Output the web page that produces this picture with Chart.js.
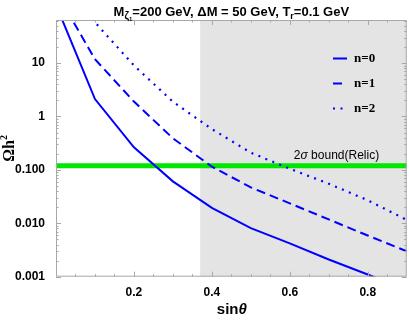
<!DOCTYPE html>
<html>
<head>
<meta charset="utf-8">
<script src="https://cdn.jsdelivr.net/npm/chart.js@4.4.0/dist/chart.umd.min.js"></script>
<style>
  html, body { margin: 0; padding: 0; background: #fff; }
</style>
</head>
<body>
<canvas id="c" width="409" height="327"></canvas>
<script>
// values
const sinTheta = [0.01, 0.1, 0.2, 0.3, 0.4, 0.5, 0.6, 0.7, 0.8, 0.9];
const omegaN0 = [82, 2.12, 0.265, 0.061, 0.0195, 0.0081, 0.0042, 0.0021, 0.0011, 0.00056];
const omegaN1 = [162, 11.8, 1.9, 0.39, 0.115, 0.047, 0.0236, 0.0118, 0.0059, 0.0030];
const omegaN2 = [265, 58, 9.0, 1.89, 0.58, 0.21, 0.105, 0.055, 0.027, 0.0116];
const seriesNames = ['n=0', 'n=1', 'n=2'];
const relicBound = 0.12;
const shadedFrom = 0.37;
const xRange = [0, 0.9];
const yRange = [0.001, 64];
const xTicks = [0.2, 0.4, 0.6, 0.8];
const yTicks = [0.001, 0.01, 0.1, 1, 10];
const yTickLabels = ['0.001', '0.010', '0.100', '1', '10'];

const BLUE = '#0000ff';
const GREEN = '#00e600';
const SANS = '"Liberation Sans", Arial, sans-serif';
const SERIF = '"Liberation Serif", "Times New Roman", serif';

function points(ys) {
  return sinTheta.map((x, i) => ({ x: x, y: ys[i] }));
}

// draws text made of pieces with different fonts / offsets
function richText(ctx, parts, cx, y) {
  let w = 0;
  parts.forEach(p => { ctx.font = p.f; w += ctx.measureText(p.t).width; });
  let x = cx - w / 2;
  ctx.textAlign = 'left';
  ctx.textBaseline = 'alphabetic';
  parts.forEach(p => {
    ctx.font = p.f;
    ctx.fillText(p.t, x, y + (p.dy || 0));
    x += ctx.measureText(p.t).width;
  });
}

const decorations = {
  id: 'decorations',
  beforeDatasetsDraw(chart) {
    const { ctx, chartArea: a, scales } = chart;
    const x0 = scales.x.getPixelForValue(shadedFrom);
    ctx.save();
    ctx.fillStyle = '#e4e4e4';
    ctx.fillRect(x0, a.top, a.right - x0, a.bottom - a.top);
    ctx.restore();
  },
  afterDatasetsDraw(chart) {
    const { ctx, chartArea: a, scales } = chart;
    ctx.save();
    ctx.strokeStyle = '#a8a8a8';
    ctx.lineWidth = 1;
    ctx.strokeRect(a.left + 0.5, a.top + 0.5, a.right - a.left - 1, a.bottom - a.top - 1);

    // inward tick marks
    ctx.beginPath();
    for (let d = 0.001; d < 100; d *= 10) {
      for (let k = 1; k <= 9; k++) {
        const v = k * d;
        if (v < yRange[0] || v > yRange[1]) continue;
        const py = Math.round(scales.y.getPixelForValue(v)) + 0.5;
        const len = k === 1 ? 5 : 2.5;
        ctx.moveTo(a.left, py); ctx.lineTo(a.left + len, py);
        ctx.moveTo(a.right, py); ctx.lineTo(a.right - len, py);
      }
    }
    for (let i = 1; i < 18; i++) {
      const v = i * 0.05;
      const px = Math.round(scales.x.getPixelForValue(v)) + 0.5;
      const len = i % 4 === 0 ? 5 : 2.5;
      ctx.moveTo(px, a.bottom); ctx.lineTo(px, a.bottom - len);
      ctx.moveTo(px, a.top); ctx.lineTo(px, a.top + len);
    }
    ctx.stroke();

    // legend
    chart.data.datasets.slice(0, 3).forEach((ds, i) => {
      const y = 58.5 + i * 25;
      ctx.strokeStyle = ds.borderColor;
      ctx.lineWidth = ds.borderWidth;
      ctx.setLineDash(ds.borderDash || []);
      ctx.beginPath();
      ctx.moveTo(333, y); ctx.lineTo(347, y);
      ctx.stroke();
      ctx.setLineDash([]);
      ctx.fillStyle = '#000';
      ctx.font = 'bold 13px ' + SERIF;
      ctx.textAlign = 'left';
      ctx.textBaseline = 'middle';
      ctx.fillText(ds.label, 354, y);
    });

    ctx.fillStyle = '#000';
    richText(ctx, [
      { t: '2', f: '12px ' + SANS },
      { t: 'σ', f: 'italic 12px ' + SANS },
      { t: ' bound(Relic)', f: '12px ' + SANS }
    ], 336.5, 159);
    ctx.restore();
  },
  afterDraw(chart) {
    const { ctx, chartArea: a } = chart;
    ctx.save();
    ctx.fillStyle = '#000';
    richText(ctx, [
      { t: 'M', f: 'bold 13px ' + SANS },
      { t: 'ζ', f: 'bold 10px ' + SANS, dy: 3 },
      { t: '1', f: 'bold 6px ' + SANS, dy: 5 },
      { t: '=200 GeV, ΔM = 50 GeV, T', f: 'bold 13px ' + SANS },
      { t: 'r', f: 'bold 9px ' + SANS, dy: 3 },
      { t: '=0.1 GeV', f: 'bold 13px ' + SANS }
    ], (a.left + a.right) / 2, 16);

    richText(ctx, [
      { t: 'sin', f: 'bold 15px ' + SANS },
      { t: 'θ', f: 'bold italic 15px ' + SANS }
    ], (a.left + a.right) / 2 + 0.5, 314);

    ctx.translate(14, (a.top + a.bottom) / 2);
    ctx.rotate(-Math.PI / 2);
    richText(ctx, [
      { t: 'Ωh', f: 'bold 16px ' + SERIF },
      { t: '2', f: 'bold 10px ' + SERIF, dy: -7 }
    ], 0, 0);
    ctx.restore();
  }
};

new Chart(document.getElementById('c'), {
  type: 'line',
  data: {
    datasets: [
      { label: seriesNames[0], data: points(omegaN0), borderColor: BLUE, borderWidth: 2, pointRadius: 0, tension: 0 },
      { label: seriesNames[1], data: points(omegaN1), borderColor: BLUE, borderWidth: 2, borderDash: [9, 5], pointRadius: 0, tension: 0 },
      { label: seriesNames[2], data: points(omegaN2), borderColor: BLUE, borderWidth: 2.2, borderDash: [2, 5.5], pointRadius: 0, tension: 0 },
      { label: 'relic', data: [{ x: xRange[0], y: relicBound }, { x: xRange[1], y: relicBound }], borderColor: GREEN, borderWidth: 5, pointRadius: 0, order: 10 }
    ]
  },
  options: {
    responsive: false,
    animation: false,
    layout: { padding: { top: 20, right: 2.3, left: 0, bottom: 0 } },
    plugins: {
      legend: { display: false },
      tooltip: { enabled: false },
      title: { display: false }
    },
    scales: {
      x: {
        type: 'linear',
        min: xRange[0],
        max: xRange[1],
        grid: { display: false },
        border: { display: false },
        afterBuildTicks: s => { s.ticks = xTicks.map(v => ({ value: v })); },
        afterFit: s => { s.height = 50.3; },
        ticks: {
          color: '#000',
          padding: 1,
          maxRotation: 0,
          font: { family: SANS, weight: 'bold', size: 12 },
          callback: v => v.toFixed(1)
        }
      },
      y: {
        type: 'logarithmic',
        min: yRange[0],
        max: yRange[1],
        grid: { display: false },
        border: { display: false },
        afterBuildTicks: s => { s.ticks = yTicks.map(v => ({ value: v })); },
        afterFit: s => { s.width = 56; },
        ticks: {
          color: '#000',
          padding: 3,
          font: { family: SANS, weight: 'bold', size: 12 },
          callback: (v, i) => yTickLabels[i]
        }
      }
    }
  },
  plugins: [decorations]
});
</script>
</body>
</html>
